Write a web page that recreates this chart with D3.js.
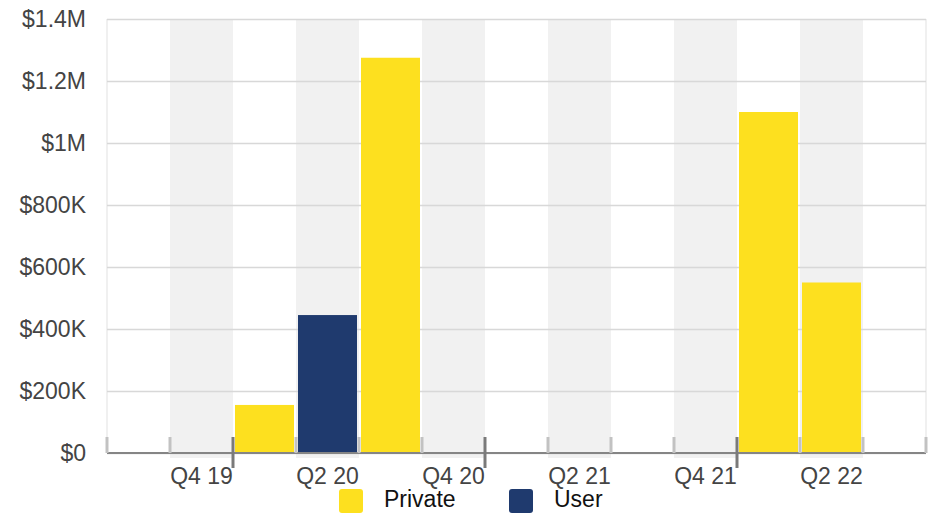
<!DOCTYPE html>
<html>
<head>
<meta charset="utf-8">
<script src="https://cdn.jsdelivr.net/npm/d3@7"></script>
<style>
    html, body { margin: 0; padding: 0; background: #ffffff; }
    svg { display: block; }
</style>
</head>
<body>
<div id="chart"></div>
<script>
// quarters along the x axis, one band each
const quarters = ['Q3 19', 'Q4 19', 'Q1 20', 'Q2 20', 'Q3 20', 'Q4 20', 'Q1 21',
    'Q2 21', 'Q3 21', 'Q4 21', 'Q1 22', 'Q2 22', 'Q3 22'];
const tick_labels = ['Q4 19', 'Q2 20', 'Q4 20', 'Q2 21', 'Q4 21', 'Q2 22'];
const private_values = [0, 0, 155000, 0, 1275000, 0, 0, 0, 0, 0, 1100000, 550000, 0];
const user_values = [0, 0, 0, 445000, 0, 0, 0, 0, 0, 0, 0, 0, 0];
const y_ticks = [0, 200000, 400000, 600000, 800000, 1000000, 1200000, 1400000];
const series_names = ['Private', 'User'];
const series_colors = ['#fde01f', '#1f3a6e'];

(function() {
    const width = 937, height = 515,
        margins = {top: 19, right: 11, bottom: 62, left: 107},
        inner_width = width - margins.left - margins.right,
        inner_height = height - margins.top - margins.bottom,
        font = '"Liberation Sans", Arial, Helvetica, sans-serif';

    let svg = d3.select('#chart').append('svg')
        .attr('width', width)
        .attr('height', height)
        .attr('font-family', font);

    let x = d3.scaleBand().domain(quarters).range([0, inner_width]).padding(0),
        y = d3.scaleLinear().domain([0, 1400000]).range([inner_height, 0]);

    let money = function(v) {
        if (v === 0) return '$0';
        if (v >= 1000000) return '$' + d3.format('~g')(v / 1000000) + 'M';
        return '$' + d3.format('~g')(v / 1000) + 'K';
    };

    let g = svg.append('g')
        .attr('transform', 'translate(' + margins.left + ',' + margins.top + ')');

    // alternating shaded bands
    g.append('g').selectAll('rect')
        .data(quarters.filter((q, i) => i % 2 === 1))
        .enter().append('rect')
        .attr('x', (d) => x(d))
        .attr('y', 0)
        .attr('width', x.bandwidth())
        .attr('height', inner_height + 5)
        .attr('fill', '#f1f1f1');

    // side borders
    g.append('g').selectAll('line')
        .data([0, inner_width])
        .enter().append('line')
        .attr('x1', (d) => d).attr('x2', (d) => d)
        .attr('y1', 0).attr('y2', inner_height)
        .attr('stroke', '#ebebeb')
        .attr('stroke-width', 1.5);

    // horizontal grid + y labels
    let y_axis = g.append('g')
        .call(d3.axisLeft(y).tickValues(y_ticks).tickFormat(money)
            .tickSize(-inner_width).tickPadding(21));
    y_axis.select('.domain').remove();
    y_axis.selectAll('.tick line')
        .attr('stroke', '#d8d8d8')
        .attr('stroke-width', 1.5);
    y_axis.selectAll('.tick text')
        .attr('fill', '#444444')
        .attr('font-size', 23)
        .attr('font-family', font);

    // bars
    let bar_inset = 2;
    let bar_data = [];
    quarters.forEach(function(q, i) {
        if (private_values[i] > 0) bar_data.push({q: q, v: private_values[i], s: 0});
        if (user_values[i] > 0) bar_data.push({q: q, v: user_values[i], s: 1});
    });

    g.append('g').selectAll('rect')
        .data(bar_data)
        .enter().append('rect')
        .attr('x', (d) => x(d.q) + bar_inset)
        .attr('y', (d) => y(d.v))
        .attr('width', x.bandwidth() - 2 * bar_inset)
        .attr('height', (d) => y(0) - y(d.v))
        .attr('fill', (d) => series_colors[d.s]);

    // x axis baseline
    g.append('line')
        .attr('x1', 0).attr('x2', inner_width)
        .attr('y1', inner_height).attr('y2', inner_height)
        .attr('stroke', '#858585')
        .attr('stroke-width', 2);

    // boundary ticks, darker and longer at year changes
    let edges = quarters.map((q) => x(q)).concat([inner_width]);
    g.append('g').selectAll('line')
        .data(edges.map((e, i) => ({pos: e, year: i < quarters.length && i > 0 && quarters[i].startsWith('Q1')})))
        .enter().append('line')
        .attr('x1', (d) => d.pos).attr('x2', (d) => d.pos)
        .attr('y1', inner_height - 16)
        .attr('y2', (d) => d.year ? inner_height + 15 : inner_height)
        .attr('stroke', (d) => d.year ? '#7a7a7a' : '#c2c2c2')
        .attr('stroke-width', 3);

    // x labels
    let x_axis = g.append('g')
        .attr('transform', 'translate(0,' + inner_height + ')')
        .call(d3.axisBottom(x).tickValues(tick_labels).tickSize(0).tickPadding(15));
    x_axis.select('.domain').remove();
    x_axis.selectAll('.tick text')
        .attr('fill', '#444444')
        .attr('font-size', 23)
        .attr('font-family', font)
        .attr('dy', '0.71em');

    // legend
    let legend = svg.append('g')
        .attr('transform', 'translate(339,489)');
    let items = legend.selectAll('g')
        .data(series_names)
        .enter().append('g')
        .attr('transform', (d, i) => 'translate(' + (i * 170) + ',0)');
    items.append('rect')
        .attr('width', 24)
        .attr('height', 24)
        .attr('rx', 3)
        .attr('fill', (d, i) => series_colors[i]);
    items.append('text')
        .attr('x', 45)
        .attr('y', 18)
        .attr('font-size', 23)
        .attr('fill', '#111111')
        .text((d) => d);
}());
</script>
</body>
</html>
